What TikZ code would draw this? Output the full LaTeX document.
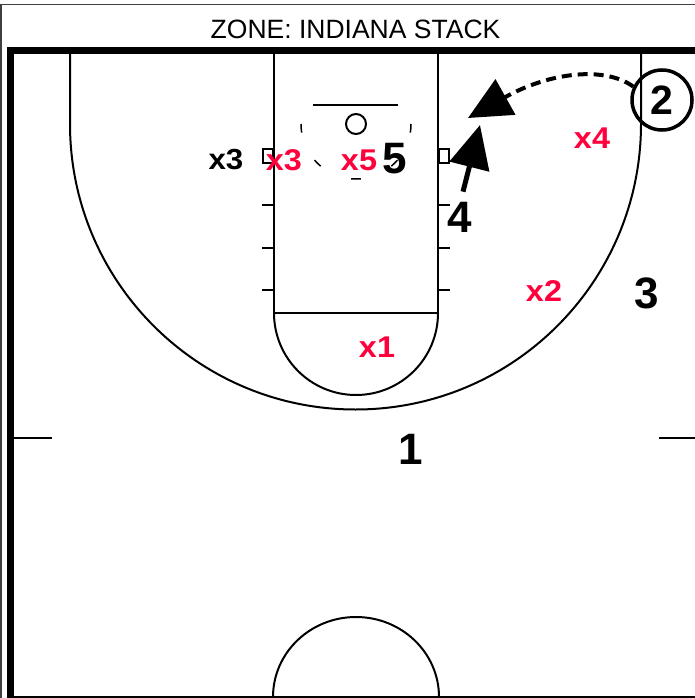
\documentclass[tikz,border=0pt]{standalone}
\usepackage{fontspec}
\setmainfont{Liberation Sans}
\newfontfamily\labfont[FakeStretch=1.08]{Liberation Sans Bold}
\usetikzlibrary{arrows.meta}
\definecolor{defred}{RGB}{255,0,60}
\begin{document}
\begin{tikzpicture}[x=1pt,y=1pt,
  courtline/.style={line width=2pt, black},
  thinmark/.style={line width=1.5pt},
  bignum/.style={inner sep=0pt, font=\bfseries\fontsize{44}{44}\selectfont},
  deflabel/.style={inner sep=0pt, text=defred, font=\labfont\fontsize{30}{30}\selectfont},
  offlabel/.style={inner sep=0pt, font=\labfont\fontsize{29}{29}\selectfont},
  cutarrow/.style={line width=5pt, -{Triangle[length=43pt,width=40pt]}},
  passarrow/.style={line width=4pt, dash pattern=on 10pt off 6pt, -{Triangle[length=43pt,width=40pt]}}
]
\useasboundingbox (0,0) rectangle (695,-698);
\fill[white] (0,0) rectangle (695,-698);
% outer thin frame
\draw[line width=1.5pt, black!75] (0.75,-698) -- (0.75,-4.75) -- (695,-4.75);
% title
\node[inner sep=0pt, font=\fontsize{26.5}{26.5}\selectfont] (title) at (355.5,-29) {ZONE: INDIANA STACK};
% thick court border
\draw[line width=7pt, line join=miter] (10.5,-698) -- (10.5,-50.5) -- (695,-50.5);
% half court line
\draw[courtline] (14,-697) -- (695,-697);
% center circle
\draw[courtline] (439,-697) arc[start angle=0, end angle=180, x radius=83, y radius=80];
% midline ticks
\draw[courtline] (14,-437.5) -- (52,-437.5);
\draw[courtline] (659,-437.5) -- (695,-437.5);
% three point line
\draw[courtline] (70,-54) -- (70,-124) arc[start angle=180, end angle=360, radius=285.5] -- (641,-54);
% lane
\draw[courtline] (274,-54) -- (274,-313) -- (438,-313) -- (438,-54);
\draw[courtline] (274,-313) arc[start angle=180, end angle=360, radius=82];
% hash marks
\foreach \yy in {205,248,290} {
  \draw[thinmark] (262,-\yy) -- (274,-\yy);
  \draw[thinmark] (438,-\yy) -- (450,-\yy);
}
% blocks
\draw[thinmark] (263,-149) rectangle (273,-163);
\draw[thinmark] (439,-149) rectangle (449,-163);
% backboard and rim
\draw[courtline] (313,-105) -- (398,-105);
\draw[courtline] (356,-124) circle (10);
% restricted area dashes
\foreach \aa/\bb in {180/189, 221/230, 265/275, 310/319, 351/360} {
  \draw[thinmark] ({356+55*cos(\aa)},{-124+55*sin(\aa)}) arc[start angle=\aa, end angle=\bb, radius=55];
}
% labels
\node[offlabel] (dx3) at (226,-160) {x3};
\node[deflabel] (rx3) at (284,-160) {x3};
\node[deflabel] (rx5) at (359,-160) {x5};
\node[deflabel] (rx4) at (592,-138) {x4};
\node[deflabel] (rx2) at (544,-291) {x2};
\node[deflabel] (rx1) at (377,-347) {x1};
\node[bignum] (p5) at (395,-159) {5};
\node[bignum] (p4) at (460,-217) {4};
\node[bignum] (p3) at (647,-293) {3};
\node[bignum] (p1) at (411,-449) {1};
\node[draw, circle, line width=3.5pt, minimum size=60pt, inner sep=0pt,
      font=\bfseries\fontsize{41}{41}\selectfont] (p2) at (662,-100) {2};
% arrows
\coordinate (t4) at (480,-125);
\coordinate (t2) at (468,-118);
\draw[cutarrow] ([xshift=3pt,yshift=10pt]p4.north) -- (t4);
\draw[passarrow] (p2.155) .. controls (605,-66) and (550,-72) .. (t2);
\end{tikzpicture}
\end{document}
